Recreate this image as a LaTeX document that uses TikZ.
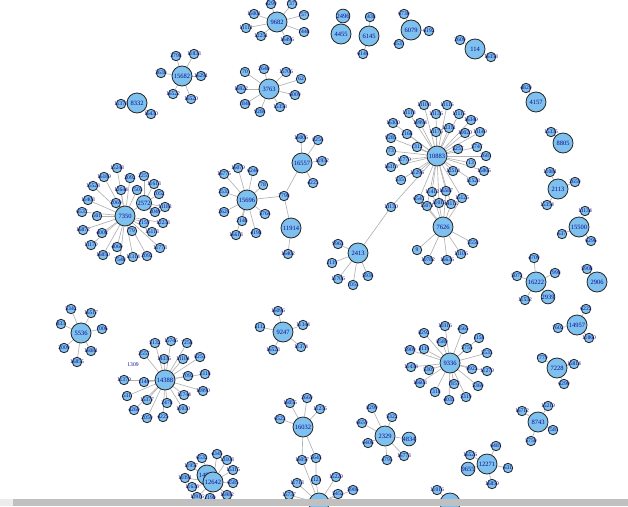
\documentclass[tikz,border=0pt]{standalone}
\usepackage{fontspec}
\setmainfont{Liberation Serif}
\usepackage{xcolor}
\usepackage{tikz}
\usetikzlibrary{arrows.meta, positioning}

\definecolor{vertexblue}{RGB}{126,192,238}
\definecolor{labelblue}{RGB}{10,10,140}
\definecolor{edgegrey}{RGB}{178,178,178}
\definecolor{bargrey}{RGB}{192,192,192}
\definecolor{barlight}{RGB}{236,236,236}

\pgfdeclarelayer{edges}
\pgfsetlayers{edges,main}

\begin{document}
\begin{tikzpicture}[x=1pt, y=-1pt,
    hub/.style={draw=black!85, fill=vertexblue, circle, line width=0.8pt, inner sep=0pt, minimum size=20pt, text=labelblue, font=\fontsize{6.5}{6.5}\selectfont},
    mid/.style={hub, minimum size=13pt},
    leaf/.style={hub, minimum size=9.5pt, font=\fontsize{5.6}{5.6}\selectfont},
    bare/.style={leaf, draw=none, fill=none},
    edge/.style={draw=edgegrey, line width=0.65pt}]

    \useasboundingbox (0,0) rectangle (628,506);

    % Star around 9682
    \node (n9682) [hub] at (277,22) {9682};
    \foreach \x/\y/\t in {271/4/4299, 292/4/1373, 304/15/1571, 304/32/1448, 287/40/16496, 261/36/12251, 246/28/11111, 254/14/15001} {
        \node (n\t) [leaf] at (\x,\y) {\makebox[0pt]{\t}};
        \begin{pgfonlayer}{edges}\draw[edge] (n9682) -- (n\t);\end{pgfonlayer}
    }

    % Star around 15682
    \node (n15682) [hub] at (182,76) {15682};
    \foreach \x/\y/\t in {176/56/3798, 194/54/11833, 201/76/16291, 191/99/16520, 173/94/16522, 161/73/3630} {
        \node (n\t) [leaf] at (\x,\y) {\makebox[0pt]{\t}};
        \begin{pgfonlayer}{edges}\draw[edge] (n15682) -- (n\t);\end{pgfonlayer}
    }

    % Small pair around 8332
    \node (n8332) [hub] at (137,103) {8332};
    \foreach \x/\y/\t in {121/104/11370, 151/114/16430} {
        \node (n\t) [leaf] at (\x,\y) {\makebox[0pt]{\t}};
        \begin{pgfonlayer}{edges}\draw[edge] (n8332) -- (n\t);\end{pgfonlayer}
    }

    % Star around 3763
    \node (n3763) [hub] at (269,89) {3763};
    \foreach \x/\y/\t in {245/72/70, 264/69/2640, 286/72/15706, 301/79/62, 295/95/6009, 280/107/15358, 260/112/9284, 245/104/1848, 241/89/16922} {
        \node (n\t) [leaf] at (\x,\y) {\makebox[0pt]{\t}};
        \begin{pgfonlayer}{edges}\draw[edge] (n3763) -- (n\t);\end{pgfonlayer}
    }

    % Top row of small components
    \node (n2496) [mid] at (343,16) {2496};
    \node (n4455) [hub] at (341,34) {4455};
    \node (n6145) [hub] at (369,36) {6145};
    \foreach \x/\y/\t in {370/17/1438, 363/54/6144} {
        \node (n\t) [leaf] at (\x,\y) {\makebox[0pt]{\t}};
        \begin{pgfonlayer}{edges}\draw[edge] (n6145) -- (n\t);\end{pgfonlayer}
    }
    \node (n6079) [hub] at (411,30) {6079};
    \foreach \x/\y/\t in {404/14/6730, 429/31/6192, 399/44/4531} {
        \node (n\t) [leaf] at (\x,\y) {\makebox[0pt]{\t}};
        \begin{pgfonlayer}{edges}\draw[edge] (n6079) -- (n\t);\end{pgfonlayer}
    }
    \node (n114) [hub] at (475,49) {114};
    \foreach \x/\y/\t in {460/40/2609, 491/57/16358} {
        \node (n\t) [leaf] at (\x,\y) {\makebox[0pt]{\t}};
        \begin{pgfonlayer}{edges}\draw[edge] (n114) -- (n\t);\end{pgfonlayer}
    }

    % Right column of small components
    \node (n4157) [hub] at (536,102) {4157};
    \node (n4820) [leaf] at (526,88) {\makebox[0pt]{4820}};
    \node (n8805) [hub] at (563,143) {8805};
    \node (n15335) [leaf] at (551,132) {\makebox[0pt]{15335}};
    \begin{pgfonlayer}{edges}
        \draw[edge] (n4157) -- (n4820);
        \draw[edge] (n8805) -- (n15335);
    \end{pgfonlayer}
    \node (n2113) [hub] at (558,189) {2113};
    \foreach \x/\y/\t in {550/172/11081, 575/182/2659, 547/205/15354} {
        \node (n\t) [leaf] at (\x,\y) {\makebox[0pt]{\t}};
        \begin{pgfonlayer}{edges}\draw[edge] (n2113) -- (n\t);\end{pgfonlayer}
    }
    \node (n15500) [hub] at (579,227) {15500};
    \foreach \x/\y/\t in {585/211/11134, 562/234/637, 591/241/6296} {
        \node (n\t) [leaf] at (\x,\y) {\makebox[0pt]{\t}};
        \begin{pgfonlayer}{edges}\draw[edge] (n15500) -- (n\t);\end{pgfonlayer}
    }
    \node (n16222) [hub] at (536,282) {16222};
    \node (n2939) [mid] at (548,297) {2939};
    \begin{pgfonlayer}{edges}\draw[edge] (n16222) -- (n2939);\end{pgfonlayer}
    \foreach \x/\y/\t in {534/258/4709, 517/276/5072, 555/273/1998, 525/300/11532} {
        \node (n\t) [leaf] at (\x,\y) {\makebox[0pt]{\t}};
        \begin{pgfonlayer}{edges}\draw[edge] (n16222) -- (n\t);\end{pgfonlayer}
    }
    \node (n2906) [hub] at (597,282) {2906};
    \node (n5908) [leaf] at (587,269) {\makebox[0pt]{5908}};
    \begin{pgfonlayer}{edges}\draw[edge] (n2906) -- (n5908);\end{pgfonlayer}
    \node (n14957) [hub] at (577,325) {14957};
    \foreach \x/\y/\t in {586/309/6222, 558/328/7602, 589/338/11860} {
        \node (n\t) [leaf] at (\x,\y) {\makebox[0pt]{\t}};
        \begin{pgfonlayer}{edges}\draw[edge] (n14957) -- (n\t);\end{pgfonlayer}
    }

    % Big cluster: 10883 and 7626
    \node (n10883) [hub] at (437,156) {10883};
    \node (n7626) [hub] at (443,227) {7626};
    \foreach \x/\y/\t in {424/105/11108, 447/105/11116, 409/113/11118, 436/114/11136, 459/114/11115, 471/120/16349,
        393/123/16300, 420/123/10994, 449/128/12311, 407/134/2168, 436/132/11175, 465/133/10020, 480/132/11149,
        391/138/9285, 417/147/1312, 458/149/5257, 477/147/5747, 391/151/73, 486/156/2681, 404/160/11770,
        471/163/13, 391/167/16315, 453/171/12514, 484/171/15865, 417/173/11296, 401/180/5351, 473/181/11528} {
        \node (n\t) [leaf] at (\x,\y) {\makebox[0pt]{\t}};
        \begin{pgfonlayer}{edges}\draw[edge] (n10883) -- (n\t);\end{pgfonlayer}
    }
    \foreach \x/\y/\t in {432/192/11412, 446/191/16587, 419/199/6547, 427/206/15071, 439/203/11015, 451/204/14113, 462/198/15125} {
        \node (n\t) [leaf] at (\x,\y) {\makebox[0pt]{\t}};
        \begin{pgfonlayer}{edges}\draw[edge] (n10883) -- (n\t) -- (n7626);\end{pgfonlayer}
    }
    \foreach \x/\y/\t in {417/250/9, 428/260/10782, 447/260/16636, 461/254/11106, 473/243/5558} {
        \node (n\t) [leaf] at (\x,\y) {\makebox[0pt]{\t}};
        \begin{pgfonlayer}{edges}\draw[edge] (n7626) -- (n\t);\end{pgfonlayer}
    }

    % 2413 hangs off the big cluster
    \node (n11130) [leaf] at (391,207) {\makebox[0pt]{11130}};
    \node (n2413) [hub] at (358,253) {2413};
    \begin{pgfonlayer}{edges}\draw[edge] (n10883) -- (n11130) -- (n2413);\end{pgfonlayer}
    \foreach \x/\y/\t in {338/244/9963, 332/263/2119, 338/279/11706, 353/285/1053, 368/276/5934} {
        \node (n\t) [leaf] at (\x,\y) {\makebox[0pt]{\t}};
        \begin{pgfonlayer}{edges}\draw[edge] (n2413) -- (n\t);\end{pgfonlayer}
    }

    % 15696, 16557 and 11914 joined by 7798
    \node (n15696) [hub] at (247,200) {15696};
    \node (n16557) [hub] at (302,163) {16557};
    \node (n11914) [hub] at (291,228) {11914};
    \node (n7798) [leaf] at (284,196) {\makebox[0pt]{7798}};
    \begin{pgfonlayer}{edges}
        \draw[edge] (n15696) -- (n7798);
        \draw[edge] (n16557) -- (n7798);
        \draw[edge] (n11914) -- (n7798);
    \end{pgfonlayer}
    \foreach \x/\y/\t in {301/138/16006, 318/140/8254, 322/161/11932, 313/183/4223} {
        \node (n\t) [leaf] at (\x,\y) {\makebox[0pt]{\t}};
        \begin{pgfonlayer}{edges}\draw[edge] (n16557) -- (n\t);\end{pgfonlayer}
    }
    \foreach \x/\y/\t in {238/168/16079, 253/171/6240, 224/174/16775, 263/185/78, 224/192/3533, 224/212/3624,
        242/221/2148, 265/214/5764, 256/233/4198, 236/235/16613} {
        \node (n\t) [leaf] at (\x,\y) {\makebox[0pt]{\t}};
        \begin{pgfonlayer}{edges}\draw[edge] (n15696) -- (n\t);\end{pgfonlayer}
    }
    \node (n16402) [leaf] at (288,254) {\makebox[0pt]{16402}};
    \begin{pgfonlayer}{edges}\draw[edge] (n11914) -- (n16402);\end{pgfonlayer}

    % Cluster 7350 with 2572
    \node (n7350) [hub] at (125,216) {7350};
    \node (n2572) [mid, minimum size=15pt] at (144,203) {2572};
    \begin{pgfonlayer}{edges}\draw[edge] (n7350) -- (n2572);\end{pgfonlayer}
    \foreach \x/\y/\t in {117/168/15248, 104/177/16189, 93/186/15528, 130/178/3092, 121/190/12644, 137/190/1503,
        88/200/11403, 116/203/2069, 82/212/6537, 97/216/501, 83/230/16872, 102/233/4008, 91/245/11170,
        117/247/4060, 103/255/16850, 120/260/7540, 133/257/11314, 147/256/2092, 132/231/79, 144/223/2159,
        160/248/11773, 152/232/15113, 163/223/12233} {
        \node (n\t) [leaf] at (\x,\y) {\makebox[0pt]{\t}};
        \begin{pgfonlayer}{edges}\draw[edge] (n7350) -- (n\t);\end{pgfonlayer}
    }
    \foreach \x/\y/\t in {144/176/2257, 154/184/11613, 159/194/1052, 165/207/11183, 155/212/3049} {
        \node (n\t) [leaf] at (\x,\y) {\makebox[0pt]{\t}};
        \begin{pgfonlayer}{edges}\draw[edge] (n2572) -- (n\t);\end{pgfonlayer}
    }

    % Star around 5536
    \node (n5536) [hub] at (81,333) {5536};
    \foreach \x/\y/\t in {71/309/5342, 91/313/16517, 61/324/833, 102/329/1006, 64/348/2009, 91/351/16081, 77/362/16855} {
        \node (n\t) [leaf] at (\x,\y) {\makebox[0pt]{\t}};
        \begin{pgfonlayer}{edges}\draw[edge] (n5536) -- (n\t);\end{pgfonlayer}
    }

    % Star around 14388
    \node (n14388) [hub] at (165,380) {14388};
    \node (n1309) [bare] at (133,365) {\makebox[0pt]{1309}};
    \foreach \x/\y/\t in {155/343/5132, 171/341/15745, 187/343/7258, 144/354/3557, 164/359/14335, 183/359/11104,
        200/357/8253, 188/376/7092, 205/374/3318, 124/380/11379, 144/382/1148, 203/391/10990, 184/395/11744,
        127/396/531, 147/400/15377, 167/403/2478, 134/410/4260, 183/409/11030, 147/418/2059, 163/417/4225} {
        \node (n\t) [leaf] at (\x,\y) {\makebox[0pt]{\t}};
        \begin{pgfonlayer}{edges}\draw[edge] (n14388) -- (n\t);\end{pgfonlayer}
    }

    % Star around 9247
    \node (n9247) [hub] at (283,332) {9247};
    \foreach \x/\y/\t in {278/311/16096, 260/327/5112, 303/325/11344, 301/347/11374, 273/350/16523} {
        \node (n\t) [leaf] at (\x,\y) {\makebox[0pt]{\t}};
        \begin{pgfonlayer}{edges}\draw[edge] (n9247) -- (n\t);\end{pgfonlayer}
    }

    % Star around 9336
    \node (n9336) [hub] at (450,363) {9336};
    \foreach \x/\y/\t in {445/326/10316, 463/329/4565, 424/333/8292, 479/338/1158, 442/342/8589, 467/348/5755,
        410/350/5909, 424/349/3119, 487/353/5533, 411/367/11438, 429/370/5307, 472/369/4923, 487/371/11279,
        420/383/16603, 454/384/1857, 478/386/5369, 435/392/1318, 466/397/5319, 449/400/4033} {
        \node (n\t) [leaf] at (\x,\y) {\makebox[0pt]{\t}};
        \begin{pgfonlayer}{edges}\draw[edge] (n9336) -- (n\t);\end{pgfonlayer}
    }

    % Stars around 7228 and 8743
    \node (n7228) [hub] at (557,368) {7228};
    \foreach \x/\y/\t in {542/358/1779, 574/364/15814, 564/384/6290} {
        \node (n\t) [leaf] at (\x,\y) {\makebox[0pt]{\t}};
        \begin{pgfonlayer}{edges}\draw[edge] (n7228) -- (n\t);\end{pgfonlayer}
    }
    \node (n8743) [hub] at (538,422) {8743};
    \foreach \x/\y/\t in {522/411/16712, 548/406/15219, 553/430/1581, 531/441/5750} {
        \node (n\t) [leaf] at (\x,\y) {\makebox[0pt]{\t}};
        \begin{pgfonlayer}{edges}\draw[edge] (n8743) -- (n\t);\end{pgfonlayer}
    }

    % Star around 2329
    \node (n2329) [hub] at (385,436) {2329};
    \node (n4834) [mid] at (409,439) {4834};
    \begin{pgfonlayer}{edges}\draw[edge] (n2329) -- (n4834);\end{pgfonlayer}
    \foreach \x/\y/\t in {372/408/8299, 392/417/5322, 362/423/6659, 368/443/6406, 387/460/4795, 404/456/16773} {
        \node (n\t) [leaf] at (\x,\y) {\makebox[0pt]{\t}};
        \begin{pgfonlayer}{edges}\draw[edge] (n2329) -- (n\t);\end{pgfonlayer}
    }

    % Star around 12271
    \node (n12271) [hub] at (487,464) {12271};
    \node (n9655) [mid] at (468,469) {9655};
    \begin{pgfonlayer}{edges}\draw[edge] (n12271) -- (n9655);\end{pgfonlayer}
    \foreach \x/\y/\t in {496/446/6481, 470/455/16526, 508/468/631, 492/484/16859} {
        \node (n\t) [leaf] at (\x,\y) {\makebox[0pt]{\t}};
        \begin{pgfonlayer}{edges}\draw[edge] (n12271) -- (n\t);\end{pgfonlayer}
    }

    % 16032 and the component cut by the bottom edge
    \node (n16032) [hub] at (303,427) {16032};
    \node (n3214) [hub] at (319,503) {3214};
    \foreach \x/\y/\t in {290/403/16055, 307/398/2669, 320/409/11235, 280/419/6523} {
        \node (n\t) [leaf] at (\x,\y) {\makebox[0pt]{\t}};
        \begin{pgfonlayer}{edges}\draw[edge] (n16032) -- (n\t);\end{pgfonlayer}
    }
    \node (n16057) [leaf] at (302,460) {\makebox[0pt]{16057}};
    \node (n5643) [leaf] at (316,458) {\makebox[0pt]{5643}};
    \node (n1121) [leaf] at (316,480) {\makebox[0pt]{1121}};
    \begin{pgfonlayer}{edges}
        \draw[edge] (n16032) -- (n16057) -- (n3214);
        \draw[edge] (n16032) -- (n5643) -- (n1121) -- (n3214);
    \end{pgfonlayer}
    \foreach \x/\y/\t in {297/483/11713, 289/495/15737, 336/477/15229, 338/494/5452, 353/490/5986} {
        \node (n\t) [leaf] at (\x,\y) {\makebox[0pt]{\t}};
        \begin{pgfonlayer}{edges}\draw[edge] (n3214) -- (n\t);\end{pgfonlayer}
    }
    \node (n6870) [hub] at (450,503) {6870};
    \node (n11016) [leaf] at (437,490) {\makebox[0pt]{11016}};
    \begin{pgfonlayer}{edges}\draw[edge] (n6870) -- (n11016);\end{pgfonlayer}

    % Cluster 12642 at the bottom left
    \node (n14818) [hub] at (207,475) {14818};
    \node (n12642) [hub] at (213,482) {12642};
    \begin{pgfonlayer}{edges}\draw[edge] (n14818) -- (n12642);\end{pgfonlayer}
    \foreach \x/\y/\t in {191/466/11957, 202/458/6532, 217/454/4345, 227/460/13108, 233/470/15315, 185/478/10391,
        233/483/6585, 192/487/11636, 227/495/16982, 197/497/13916, 210/498/2190} {
        \node (n\t) [leaf] at (\x,\y) {\makebox[0pt]{\t}};
        \begin{pgfonlayer}{edges}\draw[edge] (n12642) -- (n\t);\end{pgfonlayer}
    }

    % Scroll bar along the bottom
    \fill[barlight] (0,499) rectangle (13,506);
    \fill[bargrey] (13,499) rectangle (628,506);

\end{tikzpicture}
\end{document}
